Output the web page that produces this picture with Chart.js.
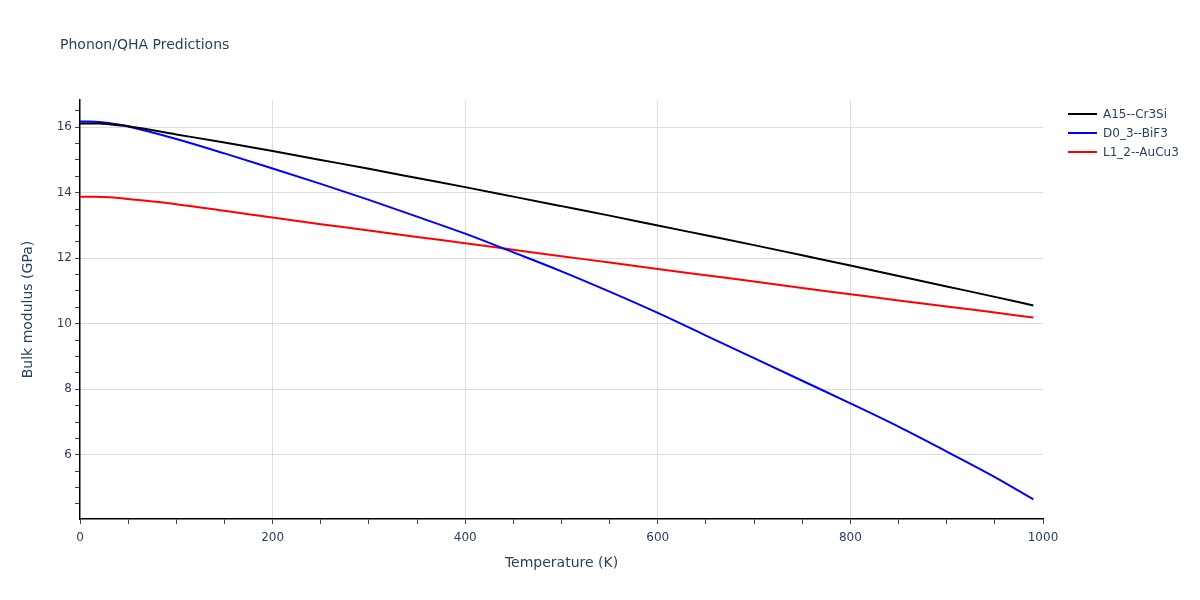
<!DOCTYPE html>
<html>
<head>
<meta charset="utf-8">
<script src="https://cdn.jsdelivr.net/npm/chart.js@4.4.1/dist/chart.umd.min.js"></script>
<style>
  body { margin: 0; background: #fff; font-family: "DejaVu Sans", sans-serif; }
  #wrap { position: relative; width: 1200px; height: 600px; }
  #title { position: absolute; left: 60px; top: 35px; font-size: 14px; line-height: 18px; color: #2a3f5f; }
  #legend { position: absolute; left: 1068px; top: 104px; font-size: 12px; color: #2a3f5f; }
  .lg { height: 19px; display: flex; align-items: center; }
  .lg span.sw { display: inline-block; width: 29px; height: 2px; margin-right: 6px; }
</style>
</head>
<body>
<div id="wrap">
  <canvas id="c" width="1200" height="600"></canvas>
  <div id="title">Phonon/QHA Predictions</div>
  <div id="legend"></div>
</div>
<script>
const temps = [0, 10, 20, 30, 40, 50, 100, 150, 200, 250, 300, 350, 400, 450, 500, 550, 600, 650, 700, 750, 800, 850, 900, 950, 990];
const a15 = [16.11, 16.11, 16.11, 16.09, 16.06, 16.03, 15.78, 15.53, 15.27, 15.00, 14.73, 14.45, 14.17, 13.88, 13.59, 13.30, 13.00, 12.70, 12.40, 12.09, 11.78, 11.46, 11.14, 10.82, 10.56];
const d03 = [16.17, 16.17, 16.16, 16.13, 16.08, 16.02, 15.64, 15.20, 14.74, 14.27, 13.78, 13.27, 12.75, 12.18, 11.60, 10.98, 10.33, 9.64, 8.95, 8.26, 7.57, 6.86, 6.10, 5.32, 4.64];
const l12 = [13.88, 13.88, 13.87, 13.86, 13.84, 13.81, 13.65, 13.45, 13.24, 13.04, 12.85, 12.65, 12.46, 12.26, 12.06, 11.87, 11.67, 11.48, 11.29, 11.09, 10.90, 10.71, 10.53, 10.34, 10.19];
const names = ['A15--Cr3Si', 'D0_3--BiF3', 'L1_2--AuCu3'];
const colors = ['#000000', '#0000ff', '#ff0000'];
const xTicks = [0, 200, 400, 600, 800, 1000];
const yTicks = [6, 8, 10, 12, 14, 16];

const series = [a15, d03, l12];
const datasets = series.map((s, i) => ({
    label: names[i],
    data: s.map((v, j) => ({ x: temps[j], y: v })),
    borderColor: colors[i],
    borderWidth: 2,
    pointRadius: 0,
    cubicInterpolationMode: 'monotone',
    fill: false
}));

const font = { family: '"DejaVu Sans", sans-serif', size: 12 };
const titleFont = { family: '"DejaVu Sans", sans-serif', size: 14 };
const isMajor = (v, list) => list.some(t => Math.abs(t - v) < 1e-6);

new Chart(document.getElementById('c'), {
    type: 'line',
    data: { datasets },
    options: {
        responsive: false,
        animation: false,
        layout: { padding: { left: 0, top: 100, right: 157, bottom: 0 } },
        plugins: { legend: { display: false }, title: { display: false }, tooltip: { enabled: false } },
        scales: {
            x: {
                type: 'linear', min: 0, max: 1000,
                afterBuildTicks: sc => { const t = []; for (let v = 0; v <= 1000; v += 50) t.push({ value: v }); sc.ticks = t; },
                afterFit: sc => { sc.height = 81; },
                ticks: { font, color: '#2a3f5f', padding: 7, maxRotation: 0, autoSkip: false,
                    callback: v => isMajor(v, xTicks) ? v : '' },
                grid: { drawOnChartArea: true, tickLength: 5,
                    color: c => (isMajor(c.tick.value, xTicks) && c.tick.value > 0 && c.tick.value < 1000) ? '#dddddd' : 'rgba(0,0,0,0)',
                    tickColor: '#444' },
                border: { color: '#000', width: 1.5 },
                title: { display: true, text: 'Temperature (K)', color: '#2a3f5f',
                    font: titleFont, padding: { top: 0, bottom: 28 } }
            },
            y: {
                type: 'linear', min: 4.04, max: 16.83,
                afterBuildTicks: sc => { const t = []; for (let v = 4.5; v <= 16.5; v += 0.5) t.push({ value: v }); sc.ticks = t; },
                afterFit: sc => { sc.width = 80; },
                ticks: { font, color: '#2a3f5f', padding: 3, autoSkip: false,
                    callback: v => isMajor(v, yTicks) ? v : '' },
                grid: { tickLength: 5,
                    color: c => isMajor(c.tick.value, yTicks) ? '#dddddd' : 'rgba(0,0,0,0)',
                    tickColor: '#444' },
                border: { color: '#000', width: 1.5 },
                title: { display: true, text: 'Bulk modulus (GPa)', color: '#2a3f5f',
                    font: titleFont, padding: { top: 20, bottom: 0 } }
            }
        }
    }
});

// legend built from the same names/colours
const legendEl = document.getElementById('legend');
names.forEach((n, i) => {
    const row = document.createElement('div');
    row.className = 'lg';
    row.innerHTML = `<span class="sw" style="background:${colors[i]}"></span>${n}`;
    legendEl.appendChild(row);
});
</script>
</body>
</html>
